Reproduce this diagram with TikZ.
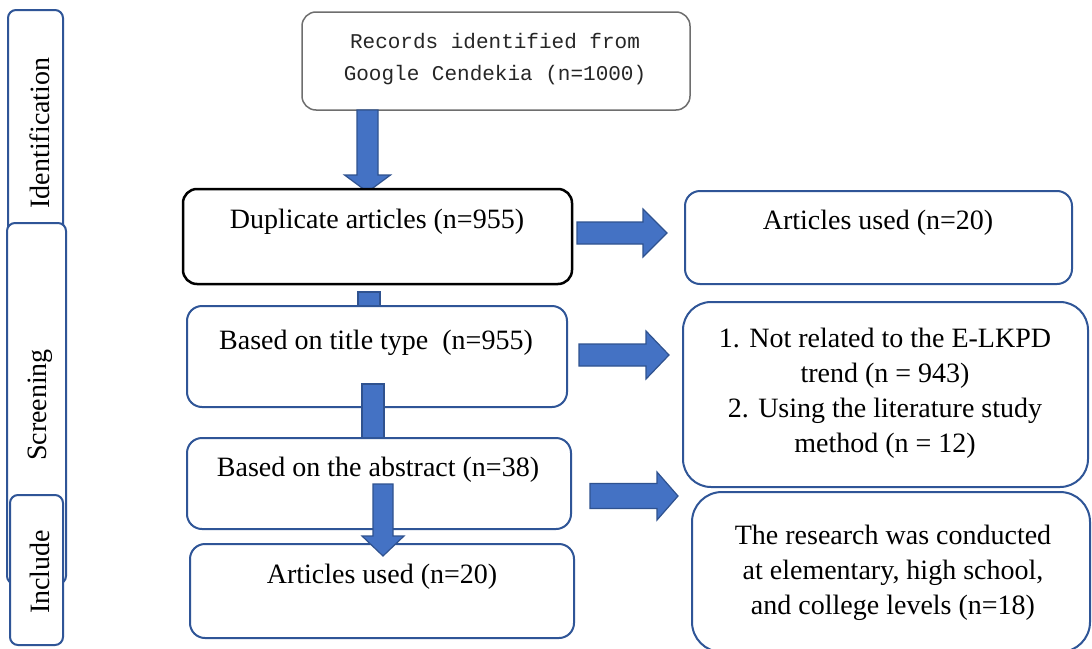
\documentclass[tikz,border=0pt]{standalone}
\usepackage{fontspec}
\setmainfont{Liberation Serif}
\newfontfamily\recfont{Liberation Mono}
\definecolor{blkfill}{HTML}{4472C4}
\definecolor{blkline}{HTML}{2F528F}
\definecolor{boxblue}{HTML}{2F5597}
\definecolor{recgray}{HTML}{6E6E6E}
\newcommand\varrowblk[6]{%
  \draw[blk] ({#1-#5},#2) -- ({#1+#5},#2) -- ({#1+#5},#3) -- ({#1+#6},#3) -- (#1,#4) -- ({#1-#6},#3) -- ({#1-#5},#3) -- cycle;}
\newcommand\harrowblk[6]{%
  \draw[blk] (#2,{#1-#5}) -- (#3,{#1-#5}) -- (#3,{#1-#6}) -- (#4,#1) -- (#3,{#1+#6}) -- (#3,{#1+#5}) -- (#2,{#1+#5}) -- cycle;}
\begin{document}
\begin{tikzpicture}[x=1pt,y=-1pt,
  blk/.style={fill=blkfill,draw=blkline,line width=1.2pt,line join=miter},
  bluebox/.style={draw=boxblue,fill=white,line width=2pt,rounded corners=15pt},
  sidebox/.style={draw=boxblue,fill=white,line width=2pt,rounded corners=8pt},
  txt/.style={font=\fontsize{28}{35}\selectfont,align=center,inner sep=0pt},
  sidetxt/.style={font=\fontsize{28}{30}\selectfont,rotate=90,inner sep=0pt}]
\useasboundingbox (0,0) rectangle (1092,648);
\fill[white] (0,0) rectangle (1092,648);

% side labels
\draw[sidebox] (8,10) rectangle (63,240);
\node[sidetxt] (lid) at (40,133) {Identification};
\draw[sidebox] (7,223) rectangle (66,584);
\node[sidetxt] (lsc) at (40,405) {Screening};
\draw[sidebox] (10,495) rectangle (63,645);
\node[sidetxt] (lin) at (40,572) {Include};

% records box
\draw[draw=recgray,fill=white,line width=1.5pt,rounded corners=14pt] (302,12) rectangle (690,110);
\node[font=\recfont\fontsize{21}{32}\selectfont,align=center,inner sep=0pt,text=black!85] (rec) at (495,59) {Records identified from\\Google Cendekia (n=1000)};

% arrow records -> duplicate
\varrowblk{367.5}{110}{175}{192}{10.5}{23}

% duplicate box
\draw[draw=black,fill=white,line width=2.5pt,rounded corners=14pt] (183,189) rectangle (572,284);
\node[txt] (dup) at (377,222) {Duplicate articles (n=955)};

% connector duplicate -> title (shaft, hidden under title box)
\draw[blk] (358,292) rectangle (380,314);

% title box
\draw[bluebox] (187,306) rectangle (567,407);
\node[txt] (tit) at (376,343) {Based on title type~~(n=955)};

% arrow title -> abstract
\draw[blk] (362,384) rectangle (384,446);

% abstract box
\draw[bluebox] (187,438) rectangle (571,529);
\node[txt] (abs) at (378,470) {Based on the abstract (n=38)};

% articles box
\draw[bluebox] (190,544) rectangle (574,638);
\node[txt] (art) at (382,577) {Articles used (n=20)};

% arrow abstract -> articles
\varrowblk{383}{484}{536}{556}{10}{21}

% right column
\draw[bluebox] (685,191) rectangle (1072,284);
\node[txt] (artr) at (878,223) {Articles used (n=20)};

\draw[bluebox,rounded corners=28pt] (683,302) rectangle (1088,487);
\node[txt] (exc) at (885,393) {1. Not related to the E-LKPD\\trend (n = 943)\\2. Using the literature study\\method (n = 12)};

\draw[bluebox,rounded corners=30pt] (692,492) rectangle (1090,652);
\node[txt] (res) at (893,573) {The research was conducted\\at elementary, high school,\\and college levels (n=18)};

% right arrows
\harrowblk{233}{577}{643}{667}{11}{24}
\harrowblk{355}{579}{646}{669}{11}{24}
\harrowblk{496}{590}{657}{678}{12.5}{24}
\end{tikzpicture}
\end{document}
